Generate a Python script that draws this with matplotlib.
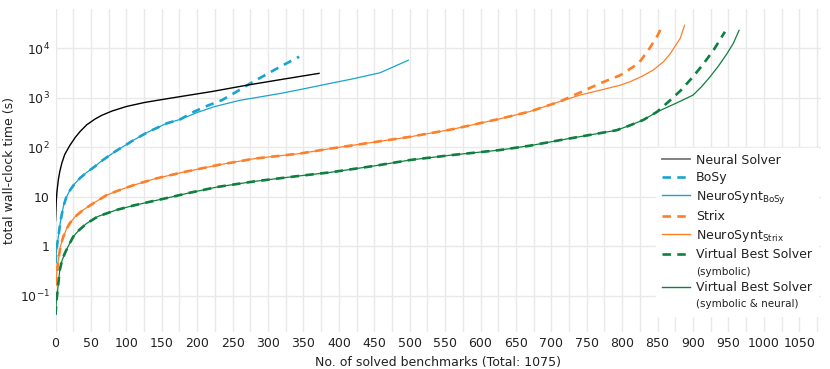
import matplotlib
matplotlib.use("Agg")
import matplotlib.pyplot as plt
from matplotlib.lines import Line2D
from matplotlib.ticker import FixedLocator, FixedFormatter, MultipleLocator, NullLocator

plt.rcParams["font.family"] = ["DejaVu Sans"]

# ---- data ----
neural_x = [0, 1, 2, 4, 6, 9, 13, 20, 28, 35, 44, 55, 65, 80, 100, 125, 150, 180, 220, 270, 320, 372]
neural_y = [3.3, 7.9, 12.6, 22, 32, 48, 71, 107, 158, 209, 282, 363, 437, 537, 661, 794, 912, 1070,
            1320, 1780, 2340, 3090]

bosy_x = [0, 1, 2, 4, 7, 11, 15, 20, 27, 35, 45, 55, 63, 75, 85, 100, 110, 130, 157, 176,
          195, 215, 235, 255, 275, 295, 317, 344]
bosy_y = [0.45, 0.71, 1.0, 1.55, 3.16, 6.3, 9.5, 13.2, 18.2, 24, 31.6, 40, 50, 66, 83, 112, 138, 200, 302, 363,
          515, 690, 890, 1300, 1940, 2800, 4200, 6700]

nsbosy_x = [0, 1, 2, 4, 7, 11, 15, 20, 27, 35, 45, 55, 63, 75, 85, 100, 110, 130, 157, 176,
            200, 223, 260, 317, 350, 388, 420, 458, 477, 498]
nsbosy_y = [0.45, 0.71, 1.0, 1.55, 3.16, 6.3, 9.5, 13.2, 18.2, 24, 31.6, 40, 50, 66, 83, 112, 138, 200, 302, 363,
            500, 650, 880, 1210, 1500, 1940, 2400, 3170, 4180, 5700]

strix_x = [0, 2, 4, 7, 11, 15, 20, 28, 39, 55, 72, 90, 110, 140, 176, 230, 282, 345, 388, 450,
           501, 560, 627, 670, 712, 740, 769, 797, 823, 837, 849, 857]
strix_y = [0.158, 0.316, 0.525, 1.0, 1.55, 2.14, 2.88, 3.98, 5.37, 7.59, 10.7, 13.5, 17, 22.9, 30.2, 43.7,
           58.9, 74.1, 93.3, 126, 162, 229, 372, 525, 832, 1259, 1950, 2820, 4900, 9120, 17000, 28800]

nsstrix_x = [0, 2, 4, 7, 11, 15, 20, 28, 39, 55, 72, 90, 110, 140, 176, 230, 282, 345, 388, 450,
             501, 560, 627, 670, 712, 740, 769, 797, 811, 828, 844, 858, 868, 882, 888]
nsstrix_y = [0.158, 0.316, 0.525, 1.0, 1.55, 2.14, 2.88, 3.98, 5.37, 7.59, 10.7, 13.5, 17, 22.9, 30.2, 43.7,
             58.9, 74.1, 93.3, 126, 162, 229, 372, 525, 832, 1122, 1413, 1778, 2089, 2692, 3631, 5248,
             7762, 15850, 28800]

vbs_x = [0, 1, 2.5, 4, 6, 9, 13, 18, 25, 33, 44, 60, 86, 110, 133, 160, 190, 230, 282, 345, 388,
         450, 501, 560, 627, 670, 712, 760, 792, 811, 830, 849, 868, 883, 898, 913, 929, 945]
vbs_y = [0.041, 0.071, 0.11, 0.178, 0.33, 0.5, 0.71, 1.0, 1.55, 2.09, 2.88, 3.98, 5.37, 6.61, 7.85, 9.55,
         12.0, 15.8, 20.4, 26.3, 30.9, 41.7, 55, 69.2, 87.1, 107, 138, 182, 219, 275, 355, 513,
         891, 1413, 2455, 4467, 9120, 21380]

vbsall_x = [0, 1, 2.5, 4, 6, 9, 13, 18, 25, 33, 44, 60, 86, 110, 133, 160, 190, 230, 282, 345, 388,
            450, 501, 560, 627, 670, 712, 760, 792, 811, 830, 849, 875, 900, 912, 924, 936, 948, 957, 965]
vbsall_y = [0.041, 0.071, 0.11, 0.178, 0.33, 0.5, 0.71, 1.0, 1.55, 2.09, 2.88, 3.98, 5.37, 6.61, 7.85, 9.55,
            12.0, 15.8, 20.4, 26.3, 30.9, 41.7, 55, 69.2, 87.1, 107, 138, 182, 219, 275, 355, 513,
            759, 1122, 1660, 2630, 4365, 7762, 12590, 22900]

y_ticks = [0.1, 1, 10, 100, 1000, 10000]
y_labels = ["$10^{-1}$", "1", "10", "$10^{2}$", "$10^{3}$", "$10^{4}$"]

CYAN = "#1aa3cf"
ORANGE = "#ff7f27"
GREEN = "#0d8040"
DASH = (0, (3.2, 2.4))

fig = plt.figure(figsize=(8.3, 3.69), dpi=100)
ax = fig.add_axes([0.0669, 0.101, 0.9217, 0.8746])

ax.plot(bosy_x, bosy_y, color=CYAN, lw=1.9, linestyle=DASH)
ax.plot(strix_x, strix_y, color=ORANGE, lw=1.9, linestyle=DASH)
ax.plot(vbs_x, vbs_y, color=GREEN, lw=1.9, linestyle=DASH)
ax.plot(neural_x, neural_y, color="black", lw=1.0)
ax.plot(nsbosy_x, nsbosy_y, color=CYAN, lw=0.9)
ax.plot(nsstrix_x, nsstrix_y, color=ORANGE, lw=0.9)
ax.plot(vbsall_x, vbsall_y, color=GREEN, lw=0.9)

ax.set_yscale("log")
ax.set_xlim(0, 1080)
ax.set_ylim(10 ** -1.73, 10 ** 4.79)

ax.xaxis.set_major_locator(MultipleLocator(50))
ax.xaxis.set_minor_locator(MultipleLocator(25))
ax.yaxis.set_major_locator(FixedLocator(y_ticks))
ax.yaxis.set_major_formatter(FixedFormatter(y_labels))
ax.yaxis.set_minor_locator(NullLocator())

ax.grid(True, which="both", axis="x", color="#e9e9e9", lw=1.0)
ax.grid(True, which="major", axis="y", color="#e9e9e9", lw=1.0)
ax.set_axisbelow(True)
for s in ax.spines.values():
    s.set_visible(False)
ax.tick_params(which="both", length=0, labelsize=9, colors="#222222")
ax.tick_params(axis="x", pad=4)
ax.tick_params(axis="y", pad=4)

ax.set_xlabel("No. of solved benchmarks (Total: 1075)", fontsize=9, color="#222222", labelpad=4)
ax.set_ylabel("total wall-clock time (s)", fontsize=9, color="#222222")
ax.yaxis.set_label_coords(-0.052, 0.5)

blank = Line2D([], [], linestyle="none")
handles = [
    Line2D([], [], color="#777777", lw=1.3),
    Line2D([], [], color=CYAN, lw=1.9, linestyle=DASH),
    Line2D([], [], color=CYAN, lw=1.0),
    Line2D([], [], color=ORANGE, lw=1.9, linestyle=DASH),
    Line2D([], [], color=ORANGE, lw=1.0),
    Line2D([], [], color=GREEN, lw=1.9, linestyle=DASH),
    blank,
    Line2D([], [], color=GREEN, lw=1.0),
    blank,
]
labels = [
    "Neural Solver",
    "BoSy",
    "NeuroSynt$_{\\mathrm{BoSy}}$",
    "Strix",
    "NeuroSynt$_{\\mathrm{Strix}}$",
    "Virtual Best Solver",
    "(symbolic)",
    "Virtual Best Solver",
    "(symbolic & neural)",
]
leg = ax.legend(handles, labels, loc="lower right", bbox_to_anchor=(0.997, 0.05),
                borderaxespad=0, fontsize=9, frameon=True, fancybox=False,
                handlelength=2.2, handletextpad=0.5, labelspacing=0.36,
                borderpad=0.5)
leg.get_frame().set_edgecolor("white")
leg.get_frame().set_facecolor("white")
leg.get_frame().set_alpha(1)
for i, t in enumerate(leg.get_texts()):
    t.set_color("#222222")
    if labels[i].startswith("("):
        t.set_fontsize(7.5)

fig.savefig("out.png", dpi=100)
